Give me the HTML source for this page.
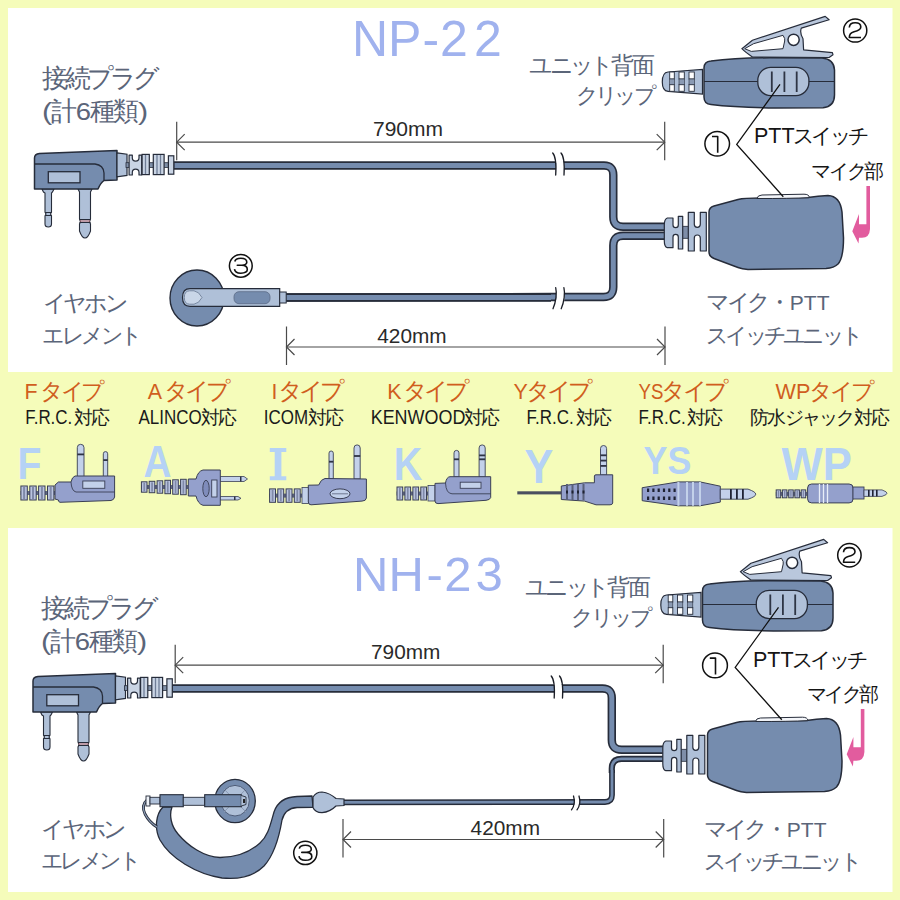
<!DOCTYPE html>
<html><head><meta charset="utf-8"><title>NP-22 / NH-23</title>
<style>
html,body{margin:0;padding:0;background:#F5FCBA;}
svg{display:block;font-family:"Liberation Sans", sans-serif;}
</style></head><body>
<svg width="900" height="900" viewBox="0 0 900 900">
<rect x="0" y="0" width="900" height="900" fill="#F5FCBA"/>
<rect x="8" y="8" width="884.5" height="364" fill="#FFFFFF"/>
<rect x="8" y="528" width="884.5" height="364" fill="#FFFFFF"/>
<g id="top">
<path d="M173,165.5 L604,165.5 Q613.3,165.5 613.3,175 L613.3,217 Q613.3,226.7 623,226.7 L666,226.7" fill="none" stroke="#262C3A" stroke-width="8.4" stroke-linejoin="round"/><path d="M173,165.5 L604,165.5 Q613.3,165.5 613.3,175 L613.3,217 Q613.3,226.7 623,226.7 L666,226.7" fill="none" stroke="#758CAE" stroke-width="5.0" stroke-linejoin="round"/>
<path d="M554.2,159.5 L562.0,159.5 L564.3,163.5 L564.0,171.5 L556.0,171.5 L556.5,163.5 Z" fill="#fff"/>
<path d="M552.7,153.0 C555.5,156.0 556.5,162.0 555.7,175.0" fill="none" stroke="#1A1D26" stroke-width="1.3" stroke-linecap="round"/>
<path d="M561.0,153.0 C563.8,156.0 564.8,162.0 564.0,175.0" fill="none" stroke="#1A1D26" stroke-width="1.3" stroke-linecap="round"/>
<path d="M666,235.8 L623,235.8 Q613.3,235.8 613.3,245.5 L613.3,287 Q613.3,297 603.5,297 L551,297 L286,297.5" fill="none" stroke="#262C3A" stroke-width="8.4" stroke-linejoin="round"/><path d="M666,235.8 L623,235.8 Q613.3,235.8 613.3,245.5 L613.3,287 Q613.3,297 603.5,297 L551,297 L286,297.5" fill="none" stroke="#758CAE" stroke-width="5.0" stroke-linejoin="round"/>
<path d="M556,291.5 L564.2,291.5 L564.7,297.5 L563.7,303.5 L555.5,303.5 L556.5,297.5 Z" fill="#fff"/>
<path d="M555.7,287.7 C557,293.0 556,302.0 553,308.7" fill="none" stroke="#1A1D26" stroke-width="1.3" stroke-linecap="round"/>
<path d="M563.9000000000001,287.7 C565.2,293.0 564.2,302.0 561.2,308.7" fill="none" stroke="#1A1D26" stroke-width="1.3" stroke-linecap="round"/>
<path d="M42,189 L54,189 L52.5,192 L51.5,193 L51.5,212 L50.5,214 L51.5,216 L51.5,224 Q51.5,227 48.3,227 Q45,227 45,224 L45,216 L46,214 L45,212 L45,193 L43.5,192 Z" fill="#AFC0D8" stroke="#262C3A" stroke-width="1.1"/>
<path d="M78,189 L92,189 L90.5,192 L90.5,219 L89.5,222 L90.5,224 L90.5,231 Q88,238 85,238 Q82,238 79.5,231 L79.5,224 L80.5,222 L79.5,219 L79.5,192 Z" fill="#AFC0D8" stroke="#262C3A" stroke-width="1.1"/>
<path d="M45,212.5 L51.5,212.5 M45,215.5 L51.5,215.5 M79.5,219.5 L90.5,219.5 M79.5,222.5 L90.5,222.5" stroke="#262C3A" stroke-width="1"/>
<path d="M80,221 L90,221" stroke="#C77" stroke-width="1"/>
<path d="M34.5,158 Q34.5,154 39.5,153.5 L117,150.5 L117,180 L104,180.5 Q100.5,183 98,189 L34.5,189 Z" fill="#758CAE" stroke="#262C3A" stroke-width="1.5" stroke-linejoin="round"/>
<path d="M34.5,164 L95,164 Q103.5,165 104,173 L104,180.5" fill="none" stroke="#262C3A" stroke-width="1.3"/>
<rect x="48.3" y="171.7" width="31.7" height="11.1" fill="#AFC0D8" stroke="#262C3A" stroke-width="1.3"/>
<path d="M117,152.8 L127,154.2 L127,175.4 L117,176.8 Z" fill="#AFC0D8" stroke="#262C3A" stroke-width="1.2"/>
<rect x="126" y="162.7" width="48" height="4.7" fill="#8090A8" stroke="#262C3A" stroke-width="0.8"/>
<path d="M129.1,155.1 L132.3,155.1 L132.3,157.85 Q132.3,161.2 135.65,161.2 Q139,161.2 139,157.85 L139,155.1 L141.7,155.1 L141.7,175 L139,175 L139,172.55 Q139,169.2 135.65,169.2 Q132.3,169.2 132.3,172.55 L132.3,175 L129.1,175 Z" fill="#C9D4E4" stroke="#262C3A" stroke-width="1.2" stroke-linejoin="round"/>
<rect x="142.1" y="154.4" width="7.2" height="20.2" fill="#C9D4E4" stroke="#262C3A" stroke-width="1.2"/>
<rect x="153.3" y="154.4" width="10.8" height="20.2" fill="#C9D4E4" stroke="#262C3A" stroke-width="1.2"/>
<rect x="168.4" y="155.8" width="5.4" height="18.4" fill="#C9D4E4" stroke="#262C3A" stroke-width="1.2"/>
<path d="M145.5,155 L145.5,174 M157,155 L157,174 M160.5,155 L160.5,174" stroke="#6F7D96" stroke-width="1.3"/>
<rect x="682" y="226.3" width="7" height="12" fill="#7F8EA8" stroke="#262C3A" stroke-width="0.8"/>
<path d="M667.3,218 L673,218 L673,225.05 Q673,227.7 675.65,227.7 Q678.3,227.7 678.3,225.05 L678.3,216.3 L682.7,216.3 L682.7,249 L678.3,249 L678.3,236.95 Q678.3,234.3 675.65,234.3 Q673,234.3 673,236.95 L673,247.7 L667.3,247.7 Q664.3,246.7 664.3,240.7 L664.3,225 Q664.3,219 667.3,218 Z" fill="#AFC0D8" stroke="#262C3A" stroke-width="1.2" stroke-linejoin="round"/>
<path d="M688.3,212.3 L694.3,212.3 L694.3,224.30 Q694.3,227.3 697.30,227.3 Q700.3,227.3 700.3,224.30 L700.3,212.3 L706.3,212.3 L706.3,251 L700.3,251 L700.3,238.00 Q700.3,235 697.30,235 Q694.3,235 694.3,238.00 L694.3,251 L688.3,251 Z" fill="#AFC0D8" stroke="#262C3A" stroke-width="1.2" stroke-linejoin="round"/>
<path d="M709,212 Q709,207.5 714,206 L738,199.5 Q744,198 760,198 L808,197.5 Q818,196 828,195.5 Q840,196 842,212 L843.5,238 Q843.5,258 838,264 Q834,268 826,268.5 L748,269.5 Q742,269 738,267.5 L714,258.5 Q709,256.5 709,252 Z" fill="#758CAE" stroke="#262C3A" stroke-width="1.5"/>
<path d="M757,198.5 Q757.5,195.2 762,195 L804,194.2 Q809,194.2 809.5,197.6 Q790,198.6 757,198.5 Z" fill="#F4F6FA" stroke="#262C3A" stroke-width="1"/>
<path d="M741.9,48.7 L752.4,40.3 L825.2,16.4 L829.1,19.8 L801.3,28.1 Q799.5,33 803,38.7 L803.6,49.8 L832.4,52.6 L833,54.8 L829.1,57.5 L752.4,57 Q745,52 741.9,48.7 Z" fill="#B9C7DC" stroke="#262C3A" stroke-width="1.2" stroke-linejoin="round"/>
<path d="M744.7,48.7 L753.6,43.7 L783,35.3 Q785.5,39 784.7,41 L783,48.7 L751.3,51.4 Z" fill="#fff" stroke="#262C3A" stroke-width="1"/>
<circle cx="793.6" cy="39.8" r="5.6" fill="#fff" stroke="#262C3A" stroke-width="1.5"/>
<path d="M668,72 L702.5,69.3 L702.5,94 L668,91.3 Q662.3,91 662.3,82 Q662.3,72.5 668,72 Z" fill="#AFC0D8" stroke="#262C3A" stroke-width="1.2"/>
<rect x="669.7" y="72" width="4.6" height="7" fill="#fff" stroke="#262C3A" stroke-width="0.9"/>
<rect x="669.7" y="84.7" width="4.6" height="6.6" fill="#fff" stroke="#262C3A" stroke-width="0.9"/>
<rect x="669.7" y="79" width="4.6" height="5.7" fill="#8A9AB3" stroke="#262C3A" stroke-width="0.6"/>
<rect x="679" y="72" width="5.3" height="7" fill="#fff" stroke="#262C3A" stroke-width="0.9"/>
<rect x="679" y="84.7" width="5.3" height="6.6" fill="#fff" stroke="#262C3A" stroke-width="0.9"/>
<rect x="679" y="79" width="5.3" height="5.7" fill="#8A9AB3" stroke="#262C3A" stroke-width="0.6"/>
<rect x="689" y="72" width="5.3" height="7" fill="#fff" stroke="#262C3A" stroke-width="0.9"/>
<rect x="689" y="84.7" width="5.3" height="6.6" fill="#fff" stroke="#262C3A" stroke-width="0.9"/>
<rect x="689" y="79" width="5.3" height="5.7" fill="#8A9AB3" stroke="#262C3A" stroke-width="0.6"/>
<path d="M704,68 Q704,61.5 711,61 Q735,58 770,57.8 L822,58 Q834,59 834.5,70 L834.5,95 Q834.5,106.5 823,107.8 L775,108 Q735,107.5 711,104.5 Q704,104 704,97 Z" fill="#758CAE" stroke="#262C3A" stroke-width="1.5"/>
<path d="M704,81.5 L834.5,81.5" stroke="#262C3A" stroke-width="1.1"/>
<rect x="757.8" y="67.3" width="51.1" height="28.3" rx="13" fill="#AFC0D8" stroke="#262C3A" stroke-width="1.3"/>
<path d="M771.8,71.5 L771.8,92 M784.4,71.5 L784.4,92 M796.7,71.5 L796.7,92" stroke="#2E3545" stroke-width="1.8"/>
<path d="M286,297.5 L551,297.5" fill="none" stroke="#262C3A" stroke-width="8.4" stroke-linejoin="round"/><path d="M286,297.5 L551,297.5" fill="none" stroke="#758CAE" stroke-width="5.0" stroke-linejoin="round"/>
<ellipse cx="197" cy="298" rx="27" ry="28" fill="#758CAE" stroke="#262C3A" stroke-width="1.4"/>
<path d="M190,288.7 L279.7,288.7 L279.7,306.3 L190,306.3 Q182.5,306.3 182.5,297.5 Q182.5,288.7 190,288.7 Z" fill="#AFC0D8" stroke="#262C3A" stroke-width="1.2"/>
<path d="M189.5,290.8 L194,290.8 Q199,291.5 202,297.5 Q199,303.5 194,304.2 L189.5,304.2 Q184.3,304 184.3,297.5 Q184.3,291 189.5,290.8 Z" fill="#C9D6E8" stroke="#6F809A" stroke-width="0.9"/>
<rect x="234" y="291.7" width="36" height="12" rx="5" fill="#758CAE" stroke="#5A6A85" stroke-width="0.8"/>
<rect x="279.7" y="292" width="6.5" height="11" fill="#AFC0D8" stroke="#262C3A" stroke-width="1"/>
<path d="M780,84.4 L736.7,144.4 L783.3,196.7" fill="none" stroke="#111" stroke-width="1.3"/>
<path d="M866.4,186 L870,186 L870,229 Q869.5,237.8 862,237.8 L859,237.8 L858.5,243.5 L852.3,231.3 L859,214 L859,224.2 L866.4,224.2 Z" fill="#E25C9E"/>
<path d="M176.7,142.2 L664.7,142.2" stroke="#4A4A4A" stroke-width="1.2"/>
<path d="M176.7,121.69999999999999 L176.7,160.2" stroke="#4A4A4A" stroke-width="1.2"/>
<path d="M664.7,121.69999999999999 L664.7,160.2" stroke="#4A4A4A" stroke-width="1.2"/>
<path d="M184.7,134.2 L176.7,142.2 L184.7,150.2" fill="none" stroke="#4A4A4A" stroke-width="1.2"/>
<path d="M656.7,134.2 L664.7,142.2 L656.7,150.2" fill="none" stroke="#4A4A4A" stroke-width="1.2"/>
<g><title>2</title><circle cx="855.2" cy="30.5" r="11.6" fill="none" stroke="#111" stroke-width="1.5"/><path transform="translate(855.2,30.5)" d="M-5.9,-3 C-5.7,-6.5 -3.2,-7.7 0,-7.7 C3.3,-7.7 5.6,-6.2 5.6,-3.5 C5.6,-0.5 1.8,0.5 -1.2,1.3 C-4.2,2.1 -5.9,3.5 -5.9,7 L5.8,7" fill="none" stroke="#111" stroke-width="1.6" stroke-linecap="butt" stroke-linejoin="round"/></g>
<g><title>1</title><circle cx="717.2" cy="143.8" r="12.3" fill="none" stroke="#111" stroke-width="1.5"/><path transform="translate(717.2,143.8)" d="M-5.2,-7.3 L0.5,-7.3 L0.5,9" fill="none" stroke="#111" stroke-width="1.6" stroke-linecap="butt" stroke-linejoin="round"/></g>
<path d="M286.5,347 L665,347" stroke="#4A4A4A" stroke-width="1.2"/>
<path d="M286.5,326.5 L286.5,365" stroke="#4A4A4A" stroke-width="1.2"/>
<path d="M665,326.5 L665,365" stroke="#4A4A4A" stroke-width="1.2"/>
<path d="M294.5,339 L286.5,347 L294.5,355" fill="none" stroke="#4A4A4A" stroke-width="1.2"/>
<path d="M657,339 L665,347 L657,355" fill="none" stroke="#4A4A4A" stroke-width="1.2"/>
<text x="352 388.1 422.5 440.1 474.1" y="55.6" font-size="50" fill="#A0B2EE">NP-22</text>
<text x="54.8" y="87.0" font-size="25.8" fill="#5B6579" text-anchor="middle">接</text>
<text x="77.8" y="87.0" font-size="25.8" fill="#5B6579" text-anchor="middle">続</text>
<text x="100.8" y="87.0" font-size="25.8" fill="#5B6579" text-anchor="middle">プ</text>
<text x="123.8" y="87.0" font-size="25.8" fill="#5B6579" text-anchor="middle">ラ</text>
<text x="146.8" y="87.0" font-size="25.8" fill="#5B6579" text-anchor="middle">グ</text>
<text x="42.0" y="119.8" font-size="23" fill="#5B6579" textLength="10.2" lengthAdjust="spacingAndGlyphs">(</text>
<text x="63.9" y="119.8" font-size="26.3" fill="#5B6579" text-anchor="middle">計</text>
<text x="75.7" y="119.8" font-size="23" fill="#5B6579" textLength="15.3" lengthAdjust="spacingAndGlyphs">6</text>
<text x="102.7" y="119.8" font-size="26.3" fill="#5B6579" text-anchor="middle">種</text>
<text x="126.2" y="119.8" font-size="26.3" fill="#5B6579" text-anchor="middle">類</text>
<text x="138.0" y="119.8" font-size="23" fill="#5B6579" textLength="10.2" lengthAdjust="spacingAndGlyphs">)</text>
<text x="373.0" y="135.6" font-size="20" fill="#2A2A2A" textLength="70.0" lengthAdjust="spacingAndGlyphs">790mm</text>
<text x="377.3" y="343.3" font-size="20" fill="#2A2A2A" textLength="69.4" lengthAdjust="spacingAndGlyphs">420mm</text>
<text x="541.1" y="72.5" font-size="22.8" fill="#5B6579" text-anchor="middle">ユ</text>
<text x="561.5" y="72.5" font-size="22.8" fill="#5B6579" text-anchor="middle">ニ</text>
<text x="581.9" y="72.5" font-size="22.8" fill="#5B6579" text-anchor="middle">ッ</text>
<text x="602.3" y="72.5" font-size="22.8" fill="#5B6579" text-anchor="middle">ト</text>
<text x="622.7" y="72.5" font-size="22.8" fill="#5B6579" text-anchor="middle">背</text>
<text x="643.1" y="72.5" font-size="22.8" fill="#5B6579" text-anchor="middle">面</text>
<text x="587.1" y="103.0" font-size="21.7" fill="#5B6579" text-anchor="middle">ク</text>
<text x="606.5" y="103.0" font-size="21.7" fill="#5B6579" text-anchor="middle">リ</text>
<text x="625.9" y="103.0" font-size="21.7" fill="#5B6579" text-anchor="middle">ッ</text>
<text x="645.3" y="103.0" font-size="21.7" fill="#5B6579" text-anchor="middle">プ</text>
<text x="754.0" y="142.6" font-size="21.5" fill="#151515">PTT</text>
<text x="803.9" y="142.6" font-size="20.7" fill="#151515" text-anchor="middle">ス</text>
<text x="822.4" y="142.6" font-size="20.7" fill="#151515" text-anchor="middle">イ</text>
<text x="840.9" y="142.6" font-size="20.7" fill="#151515" text-anchor="middle">ッ</text>
<text x="859.4" y="142.6" font-size="20.7" fill="#151515" text-anchor="middle">チ</text>
<text x="821.1" y="178.0" font-size="19.8" fill="#151515" text-anchor="middle">マ</text>
<text x="838.8" y="178.0" font-size="19.8" fill="#151515" text-anchor="middle">イ</text>
<text x="856.5" y="178.0" font-size="19.8" fill="#151515" text-anchor="middle">ク</text>
<text x="874.2" y="178.0" font-size="19.8" fill="#151515" text-anchor="middle">部</text>
<text x="54.6" y="311.0" font-size="23.3" fill="#5B6579" text-anchor="middle">イ</text>
<text x="75.4" y="311.0" font-size="23.3" fill="#5B6579" text-anchor="middle">ヤ</text>
<text x="96.2" y="311.0" font-size="23.3" fill="#5B6579" text-anchor="middle">ホ</text>
<text x="117.0" y="311.0" font-size="23.3" fill="#5B6579" text-anchor="middle">ン</text>
<text x="53.8" y="343.0" font-size="21.8" fill="#5B6579" text-anchor="middle">エ</text>
<text x="73.2" y="343.0" font-size="21.8" fill="#5B6579" text-anchor="middle">レ</text>
<text x="92.8" y="343.0" font-size="21.8" fill="#5B6579" text-anchor="middle">メ</text>
<text x="112.2" y="343.0" font-size="21.8" fill="#5B6579" text-anchor="middle">ン</text>
<text x="131.8" y="343.0" font-size="21.8" fill="#5B6579" text-anchor="middle">ト</text>
<text x="718.0" y="310.0" font-size="23.0" fill="#5B6579" text-anchor="middle">マ</text>
<text x="738.5" y="310.0" font-size="23.0" fill="#5B6579" text-anchor="middle">イ</text>
<text x="759.0" y="310.0" font-size="23.0" fill="#5B6579" text-anchor="middle">ク</text>
<text x="779.5" y="310.0" font-size="23.0" fill="#5B6579" text-anchor="middle">・</text>
<text x="789.8" y="310.0" font-size="21" fill="#5B6579">PTT</text>
<text x="717.4" y="343.0" font-size="21.6" fill="#5B6579" text-anchor="middle">ス</text>
<text x="736.7" y="343.0" font-size="21.6" fill="#5B6579" text-anchor="middle">イ</text>
<text x="756.0" y="343.0" font-size="21.6" fill="#5B6579" text-anchor="middle">ッ</text>
<text x="775.3" y="343.0" font-size="21.6" fill="#5B6579" text-anchor="middle">チ</text>
<text x="794.6" y="343.0" font-size="21.6" fill="#5B6579" text-anchor="middle">ユ</text>
<text x="813.9" y="343.0" font-size="21.6" fill="#5B6579" text-anchor="middle">ニ</text>
<text x="833.2" y="343.0" font-size="21.6" fill="#5B6579" text-anchor="middle">ッ</text>
<text x="852.5" y="343.0" font-size="21.6" fill="#5B6579" text-anchor="middle">ト</text>
<g><title>3</title><circle cx="240.8" cy="265.8" r="11.4" fill="none" stroke="#111" stroke-width="1.5"/><path transform="translate(240.8,265.8)" d="M-6,-4.3 C-5.5,-7 -3,-7.6 0,-7.6 C4,-7.6 6,-6 6,-3.6 C6,-1 4,-0.5 -3.5,-0.5 L1,-0.5 C4.5,-0.5 6.5,1.5 6.5,3.8 C6.5,6 4.5,7.4 0,7.4 C-4,7.4 -6,6 -6.3,3.3" fill="none" stroke="#111" stroke-width="1.6" stroke-linecap="butt" stroke-linejoin="round"/></g>
</g>
<text x="24.6" y="399.0" font-size="22.5" fill="#D05E1E" textLength="13.1" lengthAdjust="spacingAndGlyphs">F</text>
<text x="52.4" y="399.0" font-size="22.8" fill="#D05E1E" text-anchor="middle">タ</text>
<text x="72.8" y="399.0" font-size="22.8" fill="#D05E1E" text-anchor="middle">イ</text>
<text x="93.2" y="399.0" font-size="22.8" fill="#D05E1E" text-anchor="middle">プ</text>
<text x="147.8" y="399.0" font-size="22.5" fill="#D05E1E" textLength="14.3" lengthAdjust="spacingAndGlyphs">A</text>
<text x="176.8" y="399.0" font-size="23.5" fill="#D05E1E" text-anchor="middle">タ</text>
<text x="197.8" y="399.0" font-size="23.5" fill="#D05E1E" text-anchor="middle">イ</text>
<text x="218.8" y="399.0" font-size="23.5" fill="#D05E1E" text-anchor="middle">プ</text>
<text x="271.5" y="399.0" font-size="22.5" fill="#D05E1E" textLength="5.9" lengthAdjust="spacingAndGlyphs">I</text>
<text x="290.5" y="399.0" font-size="23.5" fill="#D05E1E" text-anchor="middle">タ</text>
<text x="311.5" y="399.0" font-size="23.5" fill="#D05E1E" text-anchor="middle">イ</text>
<text x="332.5" y="399.0" font-size="23.5" fill="#D05E1E" text-anchor="middle">プ</text>
<text x="387.2" y="399.0" font-size="22.5" fill="#D05E1E" textLength="14.3" lengthAdjust="spacingAndGlyphs">K</text>
<text x="415.9" y="399.0" font-size="23.5" fill="#D05E1E" text-anchor="middle">タ</text>
<text x="436.9" y="399.0" font-size="23.5" fill="#D05E1E" text-anchor="middle">イ</text>
<text x="457.9" y="399.0" font-size="23.5" fill="#D05E1E" text-anchor="middle">プ</text>
<text x="513.5" y="399.0" font-size="22.5" fill="#D05E1E" textLength="14.3" lengthAdjust="spacingAndGlyphs">Y</text>
<text x="538.5" y="399.0" font-size="23.5" fill="#D05E1E" text-anchor="middle">タ</text>
<text x="559.5" y="399.0" font-size="23.5" fill="#D05E1E" text-anchor="middle">イ</text>
<text x="580.5" y="399.0" font-size="23.5" fill="#D05E1E" text-anchor="middle">プ</text>
<text x="638.5" y="399.0" font-size="22.5" fill="#D05E1E" textLength="24.9" lengthAdjust="spacingAndGlyphs">YS</text>
<text x="673.8" y="399.0" font-size="23.7" fill="#D05E1E" text-anchor="middle">タ</text>
<text x="695.0" y="399.0" font-size="23.7" fill="#D05E1E" text-anchor="middle">イ</text>
<text x="716.2" y="399.0" font-size="23.7" fill="#D05E1E" text-anchor="middle">プ</text>
<text x="775.6" y="399.0" font-size="22.5" fill="#D05E1E" textLength="34.8" lengthAdjust="spacingAndGlyphs">WP</text>
<text x="821.1" y="399.0" font-size="23.2" fill="#D05E1E" text-anchor="middle">タ</text>
<text x="841.9" y="399.0" font-size="23.2" fill="#D05E1E" text-anchor="middle">イ</text>
<text x="862.6" y="399.0" font-size="23.2" fill="#D05E1E" text-anchor="middle">プ</text>
<text x="25.2" y="423.6" font-size="19.5" fill="#1A1A1A" textLength="47.1" lengthAdjust="spacingAndGlyphs">F.R.C.</text>
<text x="83.2" y="423.6" font-size="19.0" fill="#1A1A1A" text-anchor="middle">対</text>
<text x="100.2" y="423.6" font-size="19.0" fill="#1A1A1A" text-anchor="middle">応</text>
<text x="138.5" y="423.6" font-size="19.5" fill="#1A1A1A" textLength="63.2" lengthAdjust="spacingAndGlyphs">ALINCO</text>
<text x="210.5" y="423.6" font-size="19.0" fill="#1A1A1A" text-anchor="middle">対</text>
<text x="227.5" y="423.6" font-size="19.0" fill="#1A1A1A" text-anchor="middle">応</text>
<text x="263.8" y="423.6" font-size="19.5" fill="#1A1A1A" textLength="44.3" lengthAdjust="spacingAndGlyphs">ICOM</text>
<text x="317.5" y="423.6" font-size="19.0" fill="#1A1A1A" text-anchor="middle">対</text>
<text x="334.5" y="423.6" font-size="19.0" fill="#1A1A1A" text-anchor="middle">応</text>
<text x="370.7" y="423.6" font-size="19.5" fill="#1A1A1A" textLength="94.7" lengthAdjust="spacingAndGlyphs">KENWOOD</text>
<text x="473.8" y="423.6" font-size="19.0" fill="#1A1A1A" text-anchor="middle">対</text>
<text x="490.8" y="423.6" font-size="19.0" fill="#1A1A1A" text-anchor="middle">応</text>
<text x="526.6" y="423.6" font-size="19.5" fill="#1A1A1A" textLength="47.1" lengthAdjust="spacingAndGlyphs">F.R.C.</text>
<text x="585.3" y="423.6" font-size="19.0" fill="#1A1A1A" text-anchor="middle">対</text>
<text x="602.3" y="423.6" font-size="19.0" fill="#1A1A1A" text-anchor="middle">応</text>
<text x="638.6" y="423.6" font-size="19.5" fill="#1A1A1A" textLength="47.1" lengthAdjust="spacingAndGlyphs">F.R.C.</text>
<text x="696.7" y="423.6" font-size="19.0" fill="#1A1A1A" text-anchor="middle">対</text>
<text x="713.7" y="423.6" font-size="19.0" fill="#1A1A1A" text-anchor="middle">応</text>
<text x="759.6" y="423.6" font-size="19.3" fill="#1A1A1A" text-anchor="middle">防</text>
<text x="776.9" y="423.6" font-size="19.3" fill="#1A1A1A" text-anchor="middle">水</text>
<text x="794.1" y="423.6" font-size="19.3" fill="#1A1A1A" text-anchor="middle">ジ</text>
<text x="811.4" y="423.6" font-size="19.3" fill="#1A1A1A" text-anchor="middle">ャ</text>
<text x="828.6" y="423.6" font-size="19.3" fill="#1A1A1A" text-anchor="middle">ッ</text>
<text x="845.9" y="423.6" font-size="19.3" fill="#1A1A1A" text-anchor="middle">ク</text>
<text x="863.1" y="423.6" font-size="19.3" fill="#1A1A1A" text-anchor="middle">対</text>
<text x="880.4" y="423.6" font-size="19.3" fill="#1A1A1A" text-anchor="middle">応</text>
<text transform="translate(17.5,479.2) scale(0.87,1)" font-size="45" font-weight="bold" fill="#B5D2F5">F</text>
<text transform="translate(143.5,476.7) scale(0.87,1)" font-size="44.5" font-weight="bold" fill="#B5D2F5">A</text>
<text transform="translate(393.7,479.7) scale(0.86,1)" font-size="46" font-weight="bold" fill="#B5D2F5">K</text>
<text transform="translate(524.5,482.8) scale(0.9,1)" font-size="48" font-weight="bold" fill="#B5D2F5">Y</text>
<text transform="translate(643.5,474) scale(0.92,1)" font-size="39" font-weight="bold" fill="#B5D2F5">YS</text>
<text transform="translate(781.5,479.7) scale(0.95,1)" font-size="46" font-weight="bold" fill="#B5D2F5">WP</text>
<path d="M269.8,448 L286.3,448 L286.3,452 L281.4,452 L281.4,476.3 L286.3,476.3 L286.3,480.3 L269.8,480.3 L269.8,476.3 L274.7,476.3 L274.7,452 L269.8,452 Z" fill="#B5D2F5"/>
<rect x="20.5" y="491.0" width="35.5" height="4" fill="#5E6680"/>
<rect x="20.9" y="486.0" width="6.4" height="14.0" fill="#BAC4E0" stroke="#3A3F55" stroke-width="1"/>
<rect x="23.1" y="487.0" width="2.0" height="12.0" fill="#7F89A8"/>
<rect x="29.8" y="486.0" width="6.4" height="14.0" fill="#BAC4E0" stroke="#3A3F55" stroke-width="1"/>
<rect x="32.0" y="487.0" width="2.0" height="12.0" fill="#7F89A8"/>
<rect x="38.6" y="486.0" width="6.4" height="14.0" fill="#BAC4E0" stroke="#3A3F55" stroke-width="1"/>
<rect x="40.9" y="487.0" width="2.0" height="12.0" fill="#7F89A8"/>
<rect x="47.5" y="486.0" width="6.4" height="14.0" fill="#BAC4E0" stroke="#3A3F55" stroke-width="1"/>
<rect x="49.7" y="487.0" width="2.0" height="12.0" fill="#7F89A8"/>
<path d="M77.3,477 L77.3,447.65000000000003 Q77.3,444.3 80.65,444.3 Q84,444.3 84,447.65000000000003 L84,477 Z" fill="#C3D1EA" stroke="#3A3F55" stroke-width="0.9"/>
<rect x="77.3" y="453.5" width="6.700000000000003" height="1.8" fill="#2E3345"/>
<path d="M103.3,477 L103.3,453.8 Q103.3,451.6 105.5,451.6 Q107.7,451.6 107.7,453.8 L107.7,477 Z" fill="#C3D1EA" stroke="#3A3F55" stroke-width="0.9"/>
<rect x="103.3" y="459.2" width="4.400000000000006" height="1.8" fill="#2E3345"/>
<path d="M55,485 L58.4,482 L71,482 Q72,477 75,476 L114.6,476 L114.6,497 Q114,500 111,500.5 L60,502.3 Q58.4,502 58.4,500 L55,499 Z" fill="#94A0CC" stroke="#3A3F55" stroke-width="1"/>
<path d="M71,482 Q71.5,491 76,492 L114.6,492" fill="none" stroke="#3A3F55" stroke-width="0.9"/>
<rect x="82.8" y="481" width="22" height="7.3" fill="#C3D1EA" stroke="#3A3F55" stroke-width="0.9"/>
<rect x="141.0" y="485.0" width="47.0" height="4" fill="#5E6680"/>
<rect x="141.4" y="481.8" width="5.6" height="10.4" fill="#BAC4E0" stroke="#3A3F55" stroke-width="1"/>
<rect x="143.4" y="482.8" width="1.7" height="8.4" fill="#7F89A8"/>
<rect x="149.2" y="481.3" width="5.6" height="11.4" fill="#BAC4E0" stroke="#3A3F55" stroke-width="1"/>
<rect x="151.2" y="482.3" width="1.7" height="9.4" fill="#7F89A8"/>
<rect x="157.1" y="480.8" width="5.6" height="12.4" fill="#BAC4E0" stroke="#3A3F55" stroke-width="1"/>
<rect x="159.0" y="481.8" width="1.7" height="10.4" fill="#7F89A8"/>
<rect x="164.9" y="480.3" width="5.6" height="13.4" fill="#BAC4E0" stroke="#3A3F55" stroke-width="1"/>
<rect x="166.9" y="481.3" width="1.7" height="11.4" fill="#7F89A8"/>
<rect x="172.7" y="479.8" width="5.6" height="14.4" fill="#BAC4E0" stroke="#3A3F55" stroke-width="1"/>
<rect x="174.7" y="480.8" width="1.7" height="12.4" fill="#7F89A8"/>
<rect x="180.6" y="479.3" width="5.6" height="15.4" fill="#BAC4E0" stroke="#3A3F55" stroke-width="1"/>
<rect x="182.5" y="480.3" width="1.7" height="13.4" fill="#7F89A8"/>
<path d="M220,476.5 L244,476.5 L247.5,479 L244,481.5 L220,481.5 Z" fill="#C3D1EA" stroke="#3A3F55" stroke-width="0.8"/>
<rect x="240" y="476.5" width="1.5" height="5" fill="#2E3345"/>
<path d="M220,496.5 L238,496.5 L241,498.3 L238,500 L220,500 Z" fill="#C3D1EA" stroke="#3A3F55" stroke-width="0.8"/>
<rect x="234" y="496.5" width="1.5" height="3.5" fill="#2E3345"/>
<path d="M188.3,479 L196,479 Q198,471 203,470 L220.3,470 L220.3,505.3 L203,505.3 Q198,504 196,496 L188.3,496 Z" fill="#94A0CC" stroke="#3A3F55" stroke-width="1"/>
<ellipse cx="206" cy="488.5" rx="3.2" ry="8.2" fill="#7F8CBB" stroke="#3A3F55" stroke-width="0.9"/>
<rect x="211.7" y="480" width="5.3" height="17" fill="#C3D1EA" stroke="#3A3F55" stroke-width="0.9"/>
<rect x="269.2" y="493.6" width="33.0" height="4" fill="#5E6680"/>
<rect x="269.6" y="488.9" width="5.9" height="13.4" fill="#BAC4E0" stroke="#3A3F55" stroke-width="1"/>
<rect x="271.7" y="489.9" width="1.8" height="11.4" fill="#7F89A8"/>
<rect x="277.8" y="488.9" width="5.9" height="13.4" fill="#BAC4E0" stroke="#3A3F55" stroke-width="1"/>
<rect x="279.9" y="489.9" width="1.8" height="11.4" fill="#7F89A8"/>
<rect x="286.1" y="488.9" width="5.9" height="13.4" fill="#BAC4E0" stroke="#3A3F55" stroke-width="1"/>
<rect x="288.2" y="489.9" width="1.8" height="11.4" fill="#7F89A8"/>
<rect x="294.3" y="488.9" width="5.9" height="13.4" fill="#BAC4E0" stroke="#3A3F55" stroke-width="1"/>
<rect x="296.4" y="489.9" width="1.8" height="11.4" fill="#7F89A8"/>
<rect x="302" y="487.5" width="6.5" height="16" fill="#C3D1EA" stroke="#3A3F55" stroke-width="0.8"/>
<path d="M329,479 L329,453.15 Q329,451 331.15,451 Q333.3,451 333.3,453.15 L333.3,479 Z" fill="#C3D1EA" stroke="#3A3F55" stroke-width="0.9"/>
<rect x="329" y="460.8" width="4.300000000000011" height="1.8" fill="#2E3345"/>
<path d="M354,479 L354,448.0 Q354,444.9 357.1,444.9 Q360.2,444.9 360.2,448.0 L360.2,479 Z" fill="#C3D1EA" stroke="#3A3F55" stroke-width="0.9"/>
<rect x="354" y="455.1" width="6.199999999999989" height="1.8" fill="#2E3345"/>
<path d="M308.3,485.2 L318.7,485 Q321,479 325,478.5 L366.4,479 L366.4,498 Q366,501 362,501.1 L311,504.8 Q308.5,504.8 308.3,502 Z" fill="#94A0CC" stroke="#3A3F55" stroke-width="1"/>
<ellipse cx="340" cy="493.8" rx="10" ry="4.9" fill="#C3D1EA" stroke="#3A3F55" stroke-width="1"/>
<path d="M332,493.8 L348,493.8" stroke="#6E7891" stroke-width="1"/>
<rect x="396.6" y="491.5" width="31.8" height="4" fill="#5E6680"/>
<rect x="397.0" y="487.0" width="5.7" height="13.0" fill="#BAC4E0" stroke="#3A3F55" stroke-width="1"/>
<rect x="399.0" y="488.0" width="1.7" height="11.0" fill="#7F89A8"/>
<rect x="404.9" y="487.0" width="5.7" height="13.0" fill="#BAC4E0" stroke="#3A3F55" stroke-width="1"/>
<rect x="406.9" y="488.0" width="1.7" height="11.0" fill="#7F89A8"/>
<rect x="412.9" y="487.0" width="5.7" height="13.0" fill="#BAC4E0" stroke="#3A3F55" stroke-width="1"/>
<rect x="414.9" y="488.0" width="1.7" height="11.0" fill="#7F89A8"/>
<rect x="420.8" y="487.0" width="5.7" height="13.0" fill="#BAC4E0" stroke="#3A3F55" stroke-width="1"/>
<rect x="422.8" y="488.0" width="1.7" height="11.0" fill="#7F89A8"/>
<rect x="428" y="485.5" width="7" height="15.5" fill="#C3D1EA" stroke="#3A3F55" stroke-width="0.8"/>
<path d="M454,477 L454,452.9 Q454,450.4 456.5,450.4 Q459,450.4 459,452.9 L459,477 Z" fill="#C3D1EA" stroke="#3A3F55" stroke-width="0.9"/>
<rect x="454" y="458.4" width="5" height="1.8" fill="#2E3345"/>
<path d="M479.1,477 L479.1,447.94999999999993 Q479.1,444.9 482.15,444.9 Q485.2,444.9 485.2,447.94999999999993 L485.2,477 Z" fill="#C3D1EA" stroke="#3A3F55" stroke-width="0.9"/>
<rect x="479.1" y="454.5" width="6.099999999999966" height="1.8" fill="#2E3345"/>
<rect x="479.1" y="458.4" width="6.099999999999966" height="1.8" fill="#2E3345"/>
<path d="M435,483.4 L445.5,483 Q446.5,477 450,476.7 L490.7,476.7 L490.7,497.5 Q490,500 486,500.3 L438,503.6 Q435,503.6 435,501 Z" fill="#94A0CC" stroke="#3A3F55" stroke-width="1"/>
<path d="M445.5,483 Q446,493.5 452,493.8 L490.7,493.8" fill="none" stroke="#3A3F55" stroke-width="0.9"/>
<rect x="460.2" y="482.2" width="20.8" height="6.1" fill="#C3D1EA" stroke="#3A3F55" stroke-width="0.9"/>
<rect x="517.3" y="491.3" width="44" height="3.1" fill="#4A4F60"/>
<path d="M600.5,475 L600.5,448.55 Q600.5,445.5 603.55,445.5 Q606.6,445.5 606.6,448.55 L606.6,475 Z" fill="#C3D1EA" stroke="#3A3F55" stroke-width="0.9"/>
<rect x="600.5" y="454.4" width="6.100000000000023" height="1.8" fill="#2E3345"/>
<rect x="600.5" y="459.7" width="6.100000000000023" height="1.8" fill="#2E3345"/>
<rect x="600.5" y="465.0" width="6.100000000000023" height="1.8" fill="#2E3345"/>
<path d="M561.3,486 L584.6,482.8 L594.4,482.8 L594.4,476 Q594.5,474.8 596,474.8 L612.7,474.8 L612.7,503 Q612.5,504.8 610,504.8 L596,504.8 L584.6,501.1 L561.3,499.5 Z" fill="#94A0CC" stroke="#3A3F55" stroke-width="1"/>
<rect x="566" y="484" width="2" height="16" fill="#59607A"/>
<rect x="566" y="490.5" width="2" height="3" fill="#1E2233"/>
<rect x="571.5" y="484" width="2" height="16" fill="#59607A"/>
<rect x="571.5" y="490.5" width="2" height="3" fill="#1E2233"/>
<rect x="577" y="484" width="2" height="16" fill="#59607A"/>
<rect x="577" y="490.5" width="2" height="3" fill="#1E2233"/>
<rect x="582.5" y="484" width="2" height="16" fill="#59607A"/>
<rect x="582.5" y="490.5" width="2" height="3" fill="#1E2233"/>
<path d="M642.2,487.7 L678.4,481.9 L700,481.9 L720.3,486.2 L720.3,502.1 L700,505.8 L678.4,505.8 L642.2,500.7 Z" fill="#94A0CC" stroke="#3A3F55" stroke-width="1"/>
<path d="M678.4,481.9 L678.4,505.8 M687,481.9 L687,505.8 M693,481.9 L693,505.8 M700,481.9 L700,505.8" stroke="#C3D1EA" stroke-width="2"/>
<rect x="647.0" y="488.5" width="2.2" height="3.5" fill="#1E2233"/>
<rect x="652.3" y="488.5" width="2.2" height="3.5" fill="#1E2233"/>
<rect x="657.6" y="488.5" width="2.2" height="3.5" fill="#1E2233"/>
<rect x="662.9" y="488.5" width="2.2" height="3.5" fill="#1E2233"/>
<rect x="668.2" y="488.5" width="2.2" height="3.5" fill="#1E2233"/>
<rect x="673.5" y="488.5" width="2.2" height="3.5" fill="#1E2233"/>
<rect x="647.0" y="496.5" width="2.2" height="3.5" fill="#1E2233"/>
<rect x="652.3" y="496.5" width="2.2" height="3.5" fill="#1E2233"/>
<rect x="657.6" y="496.5" width="2.2" height="3.5" fill="#1E2233"/>
<rect x="662.9" y="496.5" width="2.2" height="3.5" fill="#1E2233"/>
<rect x="668.2" y="496.5" width="2.2" height="3.5" fill="#1E2233"/>
<rect x="673.5" y="496.5" width="2.2" height="3.5" fill="#1E2233"/>
<path d="M720.3,489.1 L748,489.1 Q756,492 755.7,494.2 Q756,496.5 748,499.2 L720.3,499.2 Z" fill="#C3D1EA" stroke="#3A3F55" stroke-width="0.9"/>
<rect x="730" y="489.1" width="1.8" height="10.1" fill="#1E2233"/>
<rect x="736" y="489.1" width="1.8" height="10.1" fill="#1E2233"/>
<rect x="742" y="489.1" width="1.8" height="10.1" fill="#1E2233"/>
<rect x="775.8" y="491.9" width="31.2" height="4" fill="#5E6680"/>
<rect x="776.2" y="489.9" width="4.5" height="7.9" fill="#BAC4E0" stroke="#3A3F55" stroke-width="1"/>
<rect x="777.8" y="490.9" width="1.4" height="5.9" fill="#7F89A8"/>
<rect x="782.4" y="489.9" width="4.5" height="7.9" fill="#BAC4E0" stroke="#3A3F55" stroke-width="1"/>
<rect x="784.0" y="490.9" width="1.4" height="5.9" fill="#7F89A8"/>
<rect x="788.7" y="489.9" width="4.5" height="7.9" fill="#BAC4E0" stroke="#3A3F55" stroke-width="1"/>
<rect x="790.2" y="490.9" width="1.4" height="5.9" fill="#7F89A8"/>
<rect x="794.9" y="489.9" width="4.5" height="7.9" fill="#BAC4E0" stroke="#3A3F55" stroke-width="1"/>
<rect x="796.5" y="490.9" width="1.4" height="5.9" fill="#7F89A8"/>
<rect x="801.2" y="489.9" width="4.5" height="7.9" fill="#BAC4E0" stroke="#3A3F55" stroke-width="1"/>
<rect x="802.7" y="490.9" width="1.4" height="5.9" fill="#7F89A8"/>
<rect x="807.6" y="484" width="45.5" height="18.9" rx="4" fill="#94A0CC" stroke="#3A3F55" stroke-width="1"/>
<path d="M819.5,484 L819.5,503 M823.5,484 L823.5,503 M827.5,484 L827.5,503" stroke="#E8EEF8" stroke-width="1.3"/>
<rect x="853" y="487" width="11" height="12" fill="#94A0CC" stroke="#3A3F55" stroke-width="0.9"/>
<path d="M864,489.9 L882,489.9 Q887.5,492 887,493.2 Q887.5,494.5 882,496.4 L864,496.4 Z" fill="#C3D1EA" stroke="#3A3F55" stroke-width="0.8"/>
<rect x="868" y="489.9" width="1.6" height="6.5" fill="#1E2233"/>
<rect x="872" y="489.9" width="1.6" height="6.5" fill="#1E2233"/>
<rect x="876" y="489.9" width="1.6" height="6.5" fill="#1E2233"/>
<g transform="translate(-1.5,523)">
<path d="M173,165.5 L604,165.5 Q613.3,165.5 613.3,175 L613.3,217 Q613.3,226.7 623,226.7 L666,226.7" fill="none" stroke="#262C3A" stroke-width="8.4" stroke-linejoin="round"/><path d="M173,165.5 L604,165.5 Q613.3,165.5 613.3,175 L613.3,217 Q613.3,226.7 623,226.7 L666,226.7" fill="none" stroke="#758CAE" stroke-width="5.0" stroke-linejoin="round"/>
<path d="M554.2,159.5 L562.0,159.5 L564.3,163.5 L564.0,171.5 L556.0,171.5 L556.5,163.5 Z" fill="#fff"/>
<path d="M552.7,153.0 C555.5,156.0 556.5,162.0 555.7,175.0" fill="none" stroke="#1A1D26" stroke-width="1.3" stroke-linecap="round"/>
<path d="M561.0,153.0 C563.8,156.0 564.8,162.0 564.0,175.0" fill="none" stroke="#1A1D26" stroke-width="1.3" stroke-linecap="round"/>
<path d="M666,235.8 L623,235.8 Q613.3,235.8 613.3,245.5 L613.3,250" fill="none" stroke="#262C3A" stroke-width="6.2" stroke-linejoin="round"/><path d="M666,235.8 L623,235.8 Q613.3,235.8 613.3,245.5 L613.3,250" fill="none" stroke="#758CAE" stroke-width="2.8" stroke-linejoin="round"/>
<path d="M42,189 L54,189 L52.5,192 L51.5,193 L51.5,212 L50.5,214 L51.5,216 L51.5,224 Q51.5,227 48.3,227 Q45,227 45,224 L45,216 L46,214 L45,212 L45,193 L43.5,192 Z" fill="#AFC0D8" stroke="#262C3A" stroke-width="1.1"/>
<path d="M78,189 L92,189 L90.5,192 L90.5,219 L89.5,222 L90.5,224 L90.5,231 Q88,238 85,238 Q82,238 79.5,231 L79.5,224 L80.5,222 L79.5,219 L79.5,192 Z" fill="#AFC0D8" stroke="#262C3A" stroke-width="1.1"/>
<path d="M45,212.5 L51.5,212.5 M45,215.5 L51.5,215.5 M79.5,219.5 L90.5,219.5 M79.5,222.5 L90.5,222.5" stroke="#262C3A" stroke-width="1"/>
<path d="M80,221 L90,221" stroke="#C77" stroke-width="1"/>
<path d="M34.5,158 Q34.5,154 39.5,153.5 L117,150.5 L117,180 L104,180.5 Q100.5,183 98,189 L34.5,189 Z" fill="#758CAE" stroke="#262C3A" stroke-width="1.5" stroke-linejoin="round"/>
<path d="M34.5,164 L95,164 Q103.5,165 104,173 L104,180.5" fill="none" stroke="#262C3A" stroke-width="1.3"/>
<rect x="48.3" y="171.7" width="31.7" height="11.1" fill="#AFC0D8" stroke="#262C3A" stroke-width="1.3"/>
<path d="M117,152.8 L127,154.2 L127,175.4 L117,176.8 Z" fill="#AFC0D8" stroke="#262C3A" stroke-width="1.2"/>
<rect x="126" y="162.7" width="48" height="4.7" fill="#8090A8" stroke="#262C3A" stroke-width="0.8"/>
<path d="M129.1,155.1 L132.3,155.1 L132.3,157.85 Q132.3,161.2 135.65,161.2 Q139,161.2 139,157.85 L139,155.1 L141.7,155.1 L141.7,175 L139,175 L139,172.55 Q139,169.2 135.65,169.2 Q132.3,169.2 132.3,172.55 L132.3,175 L129.1,175 Z" fill="#C9D4E4" stroke="#262C3A" stroke-width="1.2" stroke-linejoin="round"/>
<rect x="142.1" y="154.4" width="7.2" height="20.2" fill="#C9D4E4" stroke="#262C3A" stroke-width="1.2"/>
<rect x="153.3" y="154.4" width="10.8" height="20.2" fill="#C9D4E4" stroke="#262C3A" stroke-width="1.2"/>
<rect x="168.4" y="155.8" width="5.4" height="18.4" fill="#C9D4E4" stroke="#262C3A" stroke-width="1.2"/>
<path d="M145.5,155 L145.5,174 M157,155 L157,174 M160.5,155 L160.5,174" stroke="#6F7D96" stroke-width="1.3"/>
<rect x="682" y="226.3" width="7" height="12" fill="#7F8EA8" stroke="#262C3A" stroke-width="0.8"/>
<path d="M667.3,218 L673,218 L673,225.05 Q673,227.7 675.65,227.7 Q678.3,227.7 678.3,225.05 L678.3,216.3 L682.7,216.3 L682.7,249 L678.3,249 L678.3,236.95 Q678.3,234.3 675.65,234.3 Q673,234.3 673,236.95 L673,247.7 L667.3,247.7 Q664.3,246.7 664.3,240.7 L664.3,225 Q664.3,219 667.3,218 Z" fill="#AFC0D8" stroke="#262C3A" stroke-width="1.2" stroke-linejoin="round"/>
<path d="M688.3,212.3 L694.3,212.3 L694.3,224.30 Q694.3,227.3 697.30,227.3 Q700.3,227.3 700.3,224.30 L700.3,212.3 L706.3,212.3 L706.3,251 L700.3,251 L700.3,238.00 Q700.3,235 697.30,235 Q694.3,235 694.3,238.00 L694.3,251 L688.3,251 Z" fill="#AFC0D8" stroke="#262C3A" stroke-width="1.2" stroke-linejoin="round"/>
<path d="M709,212 Q709,207.5 714,206 L738,199.5 Q744,198 760,198 L808,197.5 Q818,196 828,195.5 Q840,196 842,212 L843.5,238 Q843.5,258 838,264 Q834,268 826,268.5 L748,269.5 Q742,269 738,267.5 L714,258.5 Q709,256.5 709,252 Z" fill="#758CAE" stroke="#262C3A" stroke-width="1.5"/>
<path d="M757,198.5 Q757.5,195.2 762,195 L804,194.2 Q809,194.2 809.5,197.6 Q790,198.6 757,198.5 Z" fill="#F4F6FA" stroke="#262C3A" stroke-width="1"/>
<path d="M741.9,48.7 L752.4,40.3 L825.2,16.4 L829.1,19.8 L801.3,28.1 Q799.5,33 803,38.7 L803.6,49.8 L832.4,52.6 L833,54.8 L829.1,57.5 L752.4,57 Q745,52 741.9,48.7 Z" fill="#B9C7DC" stroke="#262C3A" stroke-width="1.2" stroke-linejoin="round"/>
<path d="M744.7,48.7 L753.6,43.7 L783,35.3 Q785.5,39 784.7,41 L783,48.7 L751.3,51.4 Z" fill="#fff" stroke="#262C3A" stroke-width="1"/>
<circle cx="793.6" cy="39.8" r="5.6" fill="#fff" stroke="#262C3A" stroke-width="1.5"/>
<path d="M668,72 L702.5,69.3 L702.5,94 L668,91.3 Q662.3,91 662.3,82 Q662.3,72.5 668,72 Z" fill="#AFC0D8" stroke="#262C3A" stroke-width="1.2"/>
<rect x="669.7" y="72" width="4.6" height="7" fill="#fff" stroke="#262C3A" stroke-width="0.9"/>
<rect x="669.7" y="84.7" width="4.6" height="6.6" fill="#fff" stroke="#262C3A" stroke-width="0.9"/>
<rect x="669.7" y="79" width="4.6" height="5.7" fill="#8A9AB3" stroke="#262C3A" stroke-width="0.6"/>
<rect x="679" y="72" width="5.3" height="7" fill="#fff" stroke="#262C3A" stroke-width="0.9"/>
<rect x="679" y="84.7" width="5.3" height="6.6" fill="#fff" stroke="#262C3A" stroke-width="0.9"/>
<rect x="679" y="79" width="5.3" height="5.7" fill="#8A9AB3" stroke="#262C3A" stroke-width="0.6"/>
<rect x="689" y="72" width="5.3" height="7" fill="#fff" stroke="#262C3A" stroke-width="0.9"/>
<rect x="689" y="84.7" width="5.3" height="6.6" fill="#fff" stroke="#262C3A" stroke-width="0.9"/>
<rect x="689" y="79" width="5.3" height="5.7" fill="#8A9AB3" stroke="#262C3A" stroke-width="0.6"/>
<path d="M704,68 Q704,61.5 711,61 Q735,58 770,57.8 L822,58 Q834,59 834.5,70 L834.5,95 Q834.5,106.5 823,107.8 L775,108 Q735,107.5 711,104.5 Q704,104 704,97 Z" fill="#758CAE" stroke="#262C3A" stroke-width="1.5"/>
<path d="M704,81.5 L834.5,81.5" stroke="#262C3A" stroke-width="1.1"/>
<rect x="757.8" y="67.3" width="51.1" height="28.3" rx="13" fill="#AFC0D8" stroke="#262C3A" stroke-width="1.3"/>
<path d="M771.8,71.5 L771.8,92 M784.4,71.5 L784.4,92 M796.7,71.5 L796.7,92" stroke="#2E3545" stroke-width="1.8"/>
<path d="M780,84.4 L736.7,144.4 L783.3,196.7" fill="none" stroke="#111" stroke-width="1.3"/>
<path d="M176.7,142.2 L664.7,142.2" stroke="#4A4A4A" stroke-width="1.2"/>
<path d="M176.7,121.69999999999999 L176.7,160.2" stroke="#4A4A4A" stroke-width="1.2"/>
<path d="M664.7,121.69999999999999 L664.7,160.2" stroke="#4A4A4A" stroke-width="1.2"/>
<path d="M184.7,134.2 L176.7,142.2 L184.7,150.2" fill="none" stroke="#4A4A4A" stroke-width="1.2"/>
<path d="M656.7,134.2 L664.7,142.2 L656.7,150.2" fill="none" stroke="#4A4A4A" stroke-width="1.2"/>
</g>
<path d="M612,770 L612,795 Q612,802 605,802 L343,802.3" fill="none" stroke="#262C3A" stroke-width="5.8" stroke-linejoin="round"/><path d="M612,770 L612,795 Q612,802 605,802 L343,802.3" fill="none" stroke="#758CAE" stroke-width="2.8" stroke-linejoin="round"/>
<path d="M574.3,797.8 L579.3,797.8 L580.0,801.8 L579.3,805.8 L574.3,805.8 L574.7,801.8 Z" fill="#fff"/>
<path d="M573.5,796.0 C575.0,800.8 574.5,805.8 571.5,809.8" fill="none" stroke="#1A1D26" stroke-width="1.3" stroke-linecap="round"/>
<path d="M579.0,796.0 C580.5,800.8 580.0,805.8 577.0,809.8" fill="none" stroke="#1A1D26" stroke-width="1.3" stroke-linecap="round"/>
<path d="M163,807 C156,814 154,828 160,840 C170,858 196,874 222,878 C242,880 256,874 264,866 C274,855 279,838 282,820 C284,812 289,808 297,807.5 L313,807.3 L312,796 L297,796.5 C285,797 277,803 274,812 C270,826 268,836 260,843 C250,852 236,857.5 220,857.5 C204,857 188,846 178,834 C171,826 169,815 172,807 Z" fill="#758CAE" stroke="#262C3A" stroke-width="1.3" stroke-linejoin="round"/>
<path d="M313,797 Q316,792 322,792 Q330,793 336,798.5 L344,799 L344,805.5 L336,806 Q330,812 322,812.7 Q315,812.5 313,807.5 Z" fill="#AFC0D8" stroke="#262C3A" stroke-width="1.2"/>
<path d="M147,800 Q141,805 145,814 Q149,822 157,827" fill="none" stroke="#262C3A" stroke-width="2.8"/>
<path d="M147,800 Q141,805 145,814 Q149,822 157,827" fill="none" stroke="#8A9AB3" stroke-width="1.2"/>
<ellipse cx="235" cy="801" rx="20.3" ry="21.7" fill="#758CAE" stroke="#262C3A" stroke-width="1.3"/>
<ellipse cx="235" cy="800.7" rx="14.3" ry="15.3" fill="#AFC0D8" stroke="#4F5D78" stroke-width="1"/>
<path d="M224,789 L246,812 M246,789 L224,812" stroke="#8898B2" stroke-width="1"/>
<rect x="146" y="796" width="4" height="10" fill="#EEF2F8" stroke="#262C3A" stroke-width="0.9"/>
<rect x="150" y="797.3" width="10" height="6.7" fill="#AFC0D8" stroke="#262C3A" stroke-width="0.9"/>
<rect x="160" y="794.7" width="23.3" height="12" fill="#758CAE" stroke="#262C3A" stroke-width="1.1"/>
<rect x="183.3" y="797.3" width="21.4" height="8" fill="#AFC0D8" stroke="#262C3A" stroke-width="0.9"/>
<rect x="204.7" y="794.7" width="36.6" height="12" fill="#758CAE" stroke="#262C3A" stroke-width="1.1"/>
<path d="M241.3,795.5 L246,797 L246,804.5 L241.3,806" fill="#AFC0D8" stroke="#262C3A" stroke-width="0.9"/>
<rect x="243" y="799" width="2" height="4" fill="#222"/>
<path d="M343,839.5 L663.7,839.5" stroke="#4A4A4A" stroke-width="1.2"/>
<path d="M343,819.0 L343,857.5" stroke="#4A4A4A" stroke-width="1.2"/>
<path d="M663.7,819.0 L663.7,857.5" stroke="#4A4A4A" stroke-width="1.2"/>
<path d="M351,831.5 L343,839.5 L351,847.5" fill="none" stroke="#4A4A4A" stroke-width="1.2"/>
<path d="M655.7,831.5 L663.7,839.5 L655.7,847.5" fill="none" stroke="#4A4A4A" stroke-width="1.2"/>
<text x="353.1 388.5 426.5 444.2 475.5" y="591.4" font-size="49" fill="#A0B2EE">NH-23</text>
<text x="53.5" y="617.0" font-size="25.8" fill="#5B6579" text-anchor="middle">接</text>
<text x="76.5" y="617.0" font-size="25.8" fill="#5B6579" text-anchor="middle">続</text>
<text x="99.5" y="617.0" font-size="25.8" fill="#5B6579" text-anchor="middle">プ</text>
<text x="122.5" y="617.0" font-size="25.8" fill="#5B6579" text-anchor="middle">ラ</text>
<text x="145.5" y="617.0" font-size="25.8" fill="#5B6579" text-anchor="middle">グ</text>
<text x="41.0" y="650.3" font-size="23" fill="#5B6579" textLength="10.2" lengthAdjust="spacingAndGlyphs">(</text>
<text x="62.9" y="650.3" font-size="26.3" fill="#5B6579" text-anchor="middle">計</text>
<text x="74.7" y="650.3" font-size="23" fill="#5B6579" textLength="15.3" lengthAdjust="spacingAndGlyphs">6</text>
<text x="101.7" y="650.3" font-size="26.3" fill="#5B6579" text-anchor="middle">種</text>
<text x="125.2" y="650.3" font-size="26.3" fill="#5B6579" text-anchor="middle">類</text>
<text x="137.0" y="650.3" font-size="23" fill="#5B6579" textLength="10.2" lengthAdjust="spacingAndGlyphs">)</text>
<text x="371.0" y="658.8" font-size="20" fill="#2A2A2A" textLength="69.4" lengthAdjust="spacingAndGlyphs">790mm</text>
<text x="470.6" y="835.2" font-size="20" fill="#2A2A2A" textLength="69.4" lengthAdjust="spacingAndGlyphs">420mm</text>
<text x="537.0" y="595.0" font-size="22.8" fill="#5B6579" text-anchor="middle">ユ</text>
<text x="557.4" y="595.0" font-size="22.8" fill="#5B6579" text-anchor="middle">ニ</text>
<text x="577.8" y="595.0" font-size="22.8" fill="#5B6579" text-anchor="middle">ッ</text>
<text x="598.2" y="595.0" font-size="22.8" fill="#5B6579" text-anchor="middle">ト</text>
<text x="618.6" y="595.0" font-size="22.8" fill="#5B6579" text-anchor="middle">背</text>
<text x="639.0" y="595.0" font-size="22.8" fill="#5B6579" text-anchor="middle">面</text>
<text x="582.9" y="625.0" font-size="21.7" fill="#5B6579" text-anchor="middle">ク</text>
<text x="602.3" y="625.0" font-size="21.7" fill="#5B6579" text-anchor="middle">リ</text>
<text x="621.7" y="625.0" font-size="21.7" fill="#5B6579" text-anchor="middle">ッ</text>
<text x="641.1" y="625.0" font-size="21.7" fill="#5B6579" text-anchor="middle">プ</text>
<text x="753.0" y="666.5" font-size="21.5" fill="#151515">PTT</text>
<text x="802.9" y="666.5" font-size="20.7" fill="#151515" text-anchor="middle">ス</text>
<text x="821.4" y="666.5" font-size="20.7" fill="#151515" text-anchor="middle">イ</text>
<text x="839.9" y="666.5" font-size="20.7" fill="#151515" text-anchor="middle">ッ</text>
<text x="858.4" y="666.5" font-size="20.7" fill="#151515" text-anchor="middle">チ</text>
<text x="816.6" y="700.5" font-size="19.7" fill="#151515" text-anchor="middle">マ</text>
<text x="834.2" y="700.5" font-size="19.7" fill="#151515" text-anchor="middle">イ</text>
<text x="851.8" y="700.5" font-size="19.7" fill="#151515" text-anchor="middle">ク</text>
<text x="869.4" y="700.5" font-size="19.7" fill="#151515" text-anchor="middle">部</text>
<text x="52.9" y="837.0" font-size="23.3" fill="#5B6579" text-anchor="middle">イ</text>
<text x="73.7" y="837.0" font-size="23.3" fill="#5B6579" text-anchor="middle">ヤ</text>
<text x="94.5" y="837.0" font-size="23.3" fill="#5B6579" text-anchor="middle">ホ</text>
<text x="115.3" y="837.0" font-size="23.3" fill="#5B6579" text-anchor="middle">ン</text>
<text x="52.2" y="868.0" font-size="21.8" fill="#5B6579" text-anchor="middle">エ</text>
<text x="71.8" y="868.0" font-size="21.8" fill="#5B6579" text-anchor="middle">レ</text>
<text x="91.2" y="868.0" font-size="21.8" fill="#5B6579" text-anchor="middle">メ</text>
<text x="110.8" y="868.0" font-size="21.8" fill="#5B6579" text-anchor="middle">ン</text>
<text x="130.2" y="868.0" font-size="21.8" fill="#5B6579" text-anchor="middle">ト</text>
<text x="715.8" y="836.5" font-size="22.7" fill="#5B6579" text-anchor="middle">マ</text>
<text x="736.0" y="836.5" font-size="22.7" fill="#5B6579" text-anchor="middle">イ</text>
<text x="756.3" y="836.5" font-size="22.7" fill="#5B6579" text-anchor="middle">ク</text>
<text x="776.6" y="836.5" font-size="22.7" fill="#5B6579" text-anchor="middle">・</text>
<text x="786.8" y="836.5" font-size="21" fill="#5B6579">PTT</text>
<text x="715.3" y="868.5" font-size="21.7" fill="#5B6579" text-anchor="middle">ス</text>
<text x="734.7" y="868.5" font-size="21.7" fill="#5B6579" text-anchor="middle">イ</text>
<text x="754.1" y="868.5" font-size="21.7" fill="#5B6579" text-anchor="middle">ッ</text>
<text x="773.5" y="868.5" font-size="21.7" fill="#5B6579" text-anchor="middle">チ</text>
<text x="792.9" y="868.5" font-size="21.7" fill="#5B6579" text-anchor="middle">ユ</text>
<text x="812.3" y="868.5" font-size="21.7" fill="#5B6579" text-anchor="middle">ニ</text>
<text x="831.7" y="868.5" font-size="21.7" fill="#5B6579" text-anchor="middle">ッ</text>
<text x="851.1" y="868.5" font-size="21.7" fill="#5B6579" text-anchor="middle">ト</text>
<g><title>2</title><circle cx="849.4" cy="555.3" r="11.7" fill="none" stroke="#111" stroke-width="1.5"/><path transform="translate(849.4,555.3)" d="M-5.9,-3 C-5.7,-6.5 -3.2,-7.7 0,-7.7 C3.3,-7.7 5.6,-6.2 5.6,-3.5 C5.6,-0.5 1.8,0.5 -1.2,1.3 C-4.2,2.1 -5.9,3.5 -5.9,7 L5.8,7" fill="none" stroke="#111" stroke-width="1.6" stroke-linecap="butt" stroke-linejoin="round"/></g>
<g><title>1</title><circle cx="715" cy="665.4" r="12.4" fill="none" stroke="#111" stroke-width="1.5"/><path transform="translate(715,665.4)" d="M-5.2,-7.3 L0.5,-7.3 L0.5,9" fill="none" stroke="#111" stroke-width="1.6" stroke-linecap="butt" stroke-linejoin="round"/></g>
<g><title>3</title><circle cx="305.3" cy="852.9" r="11.6" fill="none" stroke="#111" stroke-width="1.5"/><path transform="translate(305.3,852.9)" d="M-6,-4.3 C-5.5,-7 -3,-7.6 0,-7.6 C4,-7.6 6,-6 6,-3.6 C6,-1 4,-0.5 -3.5,-0.5 L1,-0.5 C4.5,-0.5 6.5,1.5 6.5,3.8 C6.5,6 4.5,7.4 0,7.4 C-4,7.4 -6,6 -6.3,3.3" fill="none" stroke="#111" stroke-width="1.6" stroke-linecap="butt" stroke-linejoin="round"/></g>
<g transform="translate(-5.6,523)"><path d="M866.4,186 L870,186 L870,229 Q869.5,237.8 862,237.8 L859,237.8 L858.5,243.5 L852.3,231.3 L859,214 L859,224.2 L866.4,224.2 Z" fill="#E25C9E"/></g>
</svg>
</body></html>
